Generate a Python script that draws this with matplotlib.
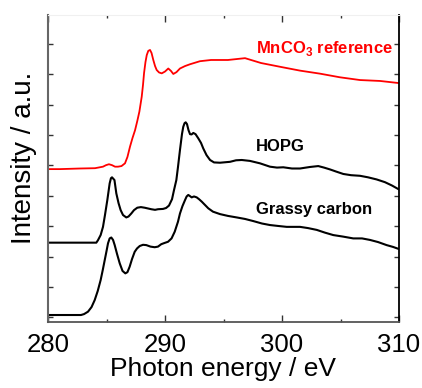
import matplotlib.pyplot as plt
from matplotlib.ticker import MultipleLocator

# values (photon energy in eV, intensity in a.u. with offsets)
mnco3_energy = [280.0, 281.03, 282.74, 284.02, 284.70, 284.96, 285.21, 285.47, 285.73,
                285.98, 286.28, 286.58, 286.79, 287.01, 287.22, 287.44, 287.63, 287.81,
                288.01, 288.12, 288.21, 288.33, 288.44, 288.57, 288.72, 288.85, 289.00,
                289.15, 289.29, 289.49, 289.72, 290.00, 290.28, 290.51, 290.71, 290.98,
                291.28, 291.71, 292.14, 292.99, 293.93, 295.38, 296.84, 298.21, 299.92,
                301.54, 303.25, 304.96, 306.67, 308.38, 310.0]
mnco3_int = [4.88, 4.88, 4.90, 4.91, 4.96, 5.01, 5.04, 5.01, 4.96,
             4.96, 4.98, 5.07, 5.28, 5.62, 5.90, 6.16, 6.46, 6.77,
             7.26, 7.65, 8.04, 8.40, 8.63, 8.77, 8.80, 8.70, 8.47,
             8.27, 8.14, 8.06, 8.03, 8.09, 8.19, 8.11, 8.01, 8.07,
             8.19, 8.27, 8.33, 8.43, 8.47, 8.47, 8.53, 8.37, 8.24,
             8.12, 8.02, 7.90, 7.81, 7.78, 7.71]

hopg_energy = [280.0, 284.13, 284.27, 284.50, 284.70, 284.87, 285.07, 285.27, 285.38,
               285.47, 285.68, 285.84, 286.03, 286.21, 286.41, 286.69, 286.88, 287.12,
               287.35, 287.63, 287.94, 288.26, 288.83, 289.15, 289.40, 289.83, 290.09,
               290.34, 290.60, 290.77, 290.97, 291.11, 291.28, 291.45, 291.56, 291.67,
               291.77, 291.88, 292.01, 292.14, 292.27, 292.42, 292.61, 292.85, 293.08,
               293.27, 293.55, 293.85, 294.19, 294.70, 295.56, 296.07, 296.56, 297.26,
               298.12, 298.97, 299.57, 300.11, 300.85, 301.54, 302.39, 303.10, 303.59,
               304.10, 304.62, 305.24, 305.90, 306.67, 307.35, 308.09, 308.80, 309.40,
               310.0]
hopg_int = [2.46, 2.46, 2.54, 2.71, 2.98, 3.37, 3.86, 4.41, 4.58,
            4.61, 4.52, 4.08, 3.76, 3.53, 3.37, 3.29, 3.32, 3.42,
            3.53, 3.61, 3.63, 3.61, 3.56, 3.54, 3.56, 3.57, 3.60,
            3.68, 3.89, 4.19, 4.52, 4.95, 5.51, 6.03, 6.27, 6.39,
            6.42, 6.36, 6.16, 6.03, 6.02, 6.07, 6.03, 5.89, 5.74,
            5.56, 5.34, 5.18, 5.10, 5.09, 5.12, 5.17, 5.18, 5.15,
            5.07, 4.96, 4.93, 4.94, 4.90, 4.90, 4.95, 4.98, 4.93,
            4.87, 4.80, 4.72, 4.68, 4.66, 4.61, 4.54, 4.45, 4.34,
            4.21]

gc_energy = [280.0, 282.82, 283.08, 283.42, 283.72, 283.99, 284.25, 284.50, 284.68,
             284.85, 285.00, 285.13, 285.27, 285.41, 285.56, 285.70, 285.90, 286.13,
             286.37, 286.61, 286.79, 286.98, 287.18, 287.41, 287.61, 287.84, 288.12,
             288.40, 288.76, 289.12, 289.40, 289.68, 289.96, 290.26, 290.56, 290.83,
             291.11, 291.28, 291.49, 291.71, 291.85, 291.99, 292.14, 292.28, 292.48,
             292.71, 292.91, 293.14, 293.42, 293.70, 294.10, 294.70, 295.38, 296.13,
             296.84, 297.55, 298.29, 298.97, 299.66, 300.40, 301.54, 302.22, 302.97,
             303.67, 304.38, 305.21, 306.09, 306.84, 307.52, 308.21, 308.94, 309.49,
             310.0]
gc_int = [0.08, 0.08, 0.11, 0.19, 0.34, 0.57, 0.87, 1.23, 1.56,
          1.89, 2.18, 2.44, 2.60, 2.63, 2.55, 2.38, 2.09, 1.78,
          1.53, 1.45, 1.49, 1.67, 1.92, 2.16, 2.27, 2.35, 2.39,
          2.38, 2.33, 2.31, 2.33, 2.41, 2.45, 2.49, 2.60, 2.82,
          3.15, 3.42, 3.66, 3.86, 3.98, 4.03, 3.99, 3.95, 3.98,
          3.95, 3.89, 3.81, 3.70, 3.59, 3.48, 3.40, 3.34, 3.29,
          3.24, 3.17, 3.09, 3.04, 3.01, 2.98, 2.98, 2.94, 2.88,
          2.79, 2.71, 2.66, 2.60, 2.60, 2.55, 2.48, 2.38, 2.32,
          2.25]

plt.rcParams['font.family'] = ['Liberation Sans', 'DejaVu Sans']

fig = plt.figure(figsize=(4.22, 3.88), dpi=100)
ax = fig.add_axes([48 / 422, 66 / 388, 351 / 422, 307 / 388])

ax.plot(mnco3_energy, mnco3_int, color='#ff0000', lw=1.3)
ax.plot(hopg_energy, hopg_int, color='black', lw=1.5)
ax.plot(gc_energy, gc_int, color='black', lw=1.5)

ax.text(297.8, 8.86, r'MnCO$_\mathregular{3}$ reference', color='#ff0000',
        fontsize=12, fontweight='bold', va='center')
ax.text(297.8, 5.64, 'HOPG', color='black', fontsize=12, fontweight='bold',
        va='center')
ax.text(297.8, 3.54, 'Grassy carbon', color='black', fontsize=12,
        fontweight='bold', va='center')

ax.set_xlim(280, 310)
ax.set_ylim(-0.15, 9.95)
ax.xaxis.set_major_locator(MultipleLocator(10))
ax.xaxis.set_minor_locator(MultipleLocator(5))
ax.yaxis.set_major_locator(MultipleLocator(1))
ax.set_yticklabels([])

ax.tick_params(axis='both', which='both', direction='in', top=True, right=True,
               colors='#333333', width=1)
ax.tick_params(axis='x', which='major', length=5, labelsize=18.5, pad=8)
ax.tick_params(axis='x', which='minor', length=2.5)
ax.tick_params(axis='y', which='major', length=3.5)
ax.tick_params(axis='x', labelcolor='black')

ax.spines['left'].set_color('#666666')
ax.spines['left'].set_linewidth(1.5)
ax.spines['bottom'].set_color('#555555')
ax.spines['bottom'].set_linewidth(1.3)
ax.spines['right'].set_color('black')
ax.spines['right'].set_linewidth(1.3)
ax.spines['top'].set_color('#f0f0f0')

ax.set_xlabel('Photon energy / eV', fontsize=19, labelpad=0)
ax.set_ylabel('Intensity / a.u.', fontsize=20)
ax.yaxis.set_label_coords(-0.03, 0.535)

fig.savefig('out.png', dpi=100)
